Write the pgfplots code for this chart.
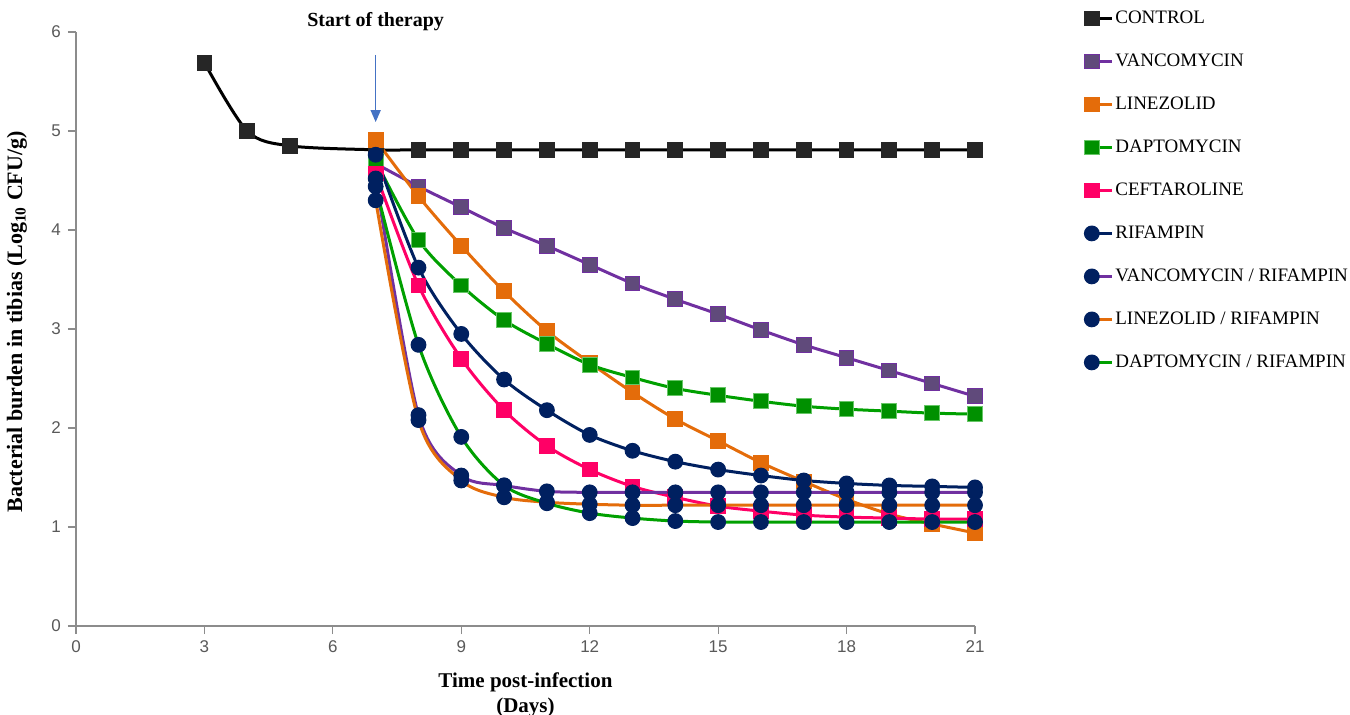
\documentclass[border=0pt]{standalone}
\usepackage{fontspec}
\setmainfont{Liberation Serif}
\setsansfont{Liberation Sans}
\usepackage{pgfplots}
\pgfplotsset{compat=1.18}
\usetikzlibrary{arrows.meta}

\definecolor{ctrl}{HTML}{262626}
\definecolor{vanco}{HTML}{7030A0}
\definecolor{vancofill}{HTML}{604A7B}
\definecolor{linez}{HTML}{E46C0A}
\definecolor{dapto}{HTML}{00A000}
\definecolor{cefta}{HTML}{FF0066}
\definecolor{rifa}{HTML}{002060}
\definecolor{axgray}{HTML}{8C8C8C}
\definecolor{ticktext}{HTML}{595959}
\definecolor{arrowblue}{HTML}{4472C4}

\pgfplotstableread{
x y
3 5.69
4 5.00
5 4.85
7 4.81
8 4.81
9 4.81
10 4.81
11 4.81
12 4.81
13 4.81
14 4.81
15 4.81
16 4.81
17 4.81
18 4.81
19 4.81
20 4.81
21 4.81
}\control
\pgfplotstableread{
x y
7 4.67
8 4.44
9 4.23
10 4.02
11 3.84
12 3.65
13 3.46
14 3.30
15 3.15
16 2.99
17 2.84
18 2.71
19 2.58
20 2.45
21 2.32
}\vancomycin
\pgfplotstableread{
x y
7 4.91
8 4.34
9 3.84
10 3.38
11 2.98
12 2.66
13 2.36
14 2.09
15 1.87
16 1.65
17 1.46
18 1.28
19 1.13
20 1.03
21 0.94
}\linezolid
\pgfplotstableread{
x y
7 4.70
8 3.90
9 3.44
10 3.09
11 2.85
12 2.64
13 2.51
14 2.40
15 2.33
16 2.27
17 2.22
18 2.19
19 2.17
20 2.15
21 2.14
}\daptomycin
\pgfplotstableread{
x y
7 4.57
8 3.44
9 2.70
10 2.18
11 1.82
12 1.58
13 1.41
14 1.30
15 1.21
16 1.16
17 1.12
18 1.10
19 1.09
20 1.08
21 1.08
}\ceftaroline
\pgfplotstableread{
x y
7 4.76
8 3.62
9 2.95
10 2.49
11 2.18
12 1.93
13 1.77
14 1.66
15 1.58
16 1.52
17 1.47
18 1.44
19 1.42
20 1.41
21 1.40
}\rifampin
\pgfplotstableread{
x y
7 4.52
8 2.13
9 1.52
10 1.42
11 1.36
12 1.35
13 1.35
14 1.35
15 1.35
16 1.35
17 1.35
18 1.35
19 1.35
20 1.35
21 1.35
}\vancorif
\pgfplotstableread{
x y
7 4.30
8 2.08
9 1.47
10 1.30
11 1.25
12 1.23
13 1.22
14 1.22
15 1.22
16 1.22
17 1.22
18 1.22
19 1.22
20 1.22
21 1.22
}\linezrif
\pgfplotstableread{
x y
7 4.44
8 2.84
9 1.91
10 1.42
11 1.24
12 1.14
13 1.09
14 1.06
15 1.05
16 1.05
17 1.05
18 1.05
19 1.05
20 1.05
21 1.05
}\daptorif

\begin{document}
\begin{tikzpicture}
\begin{axis}[
    scale only axis,
    width=449.5pt, height=297pt,
    xmin=0, xmax=21, ymin=0, ymax=6,
    xtick={0,3,...,21}, ytick={0,1,...,6},
    axis lines*=left,
    axis line style={axgray, line width=0.6pt},
    tick style={axgray, line width=0.6pt},
    tick align=outside, major tick length=4pt,
    tick label style={font=\sffamily\fontsize{8.5}{10}\selectfont, text=ticktext},
    /pgf/number format/assume math mode=true,
    clip=false,
    xlabel={Time post-infection\\(Days)},
    xlabel style={font=\bfseries\fontsize{10.5}{12.5}\selectfont, align=center,
        at={(axis description cs:0.5,-0.078)}, anchor=north, inner sep=0pt},
    ylabel={Bacterial burden in tibias (Log\textsubscript{10} CFU/g)},
    ylabel style={font=\bfseries\fontsize{11}{13}\selectfont,
        at={(axis description cs:-0.0656,0.512)}, anchor=center, inner sep=0pt},
    every axis plot/.append style={line width=1.5pt, smooth},
    legend cell align=left,
    legend style={draw=none, fill=none, at={(1.1146,1.0488)}, anchor=north west,
        font=\fontsize{9.5}{11}\selectfont, row sep=10.5pt,
        nodes={inner sep=1pt, text height=7pt, text depth=2pt}},
    legend image code/.code={
        \draw[#1,mark=none] (0pt,0pt) -- (10pt,0pt);
        \draw[#1] plot coordinates {(0pt,0pt)};
    },
]
\coordinate (bbll) at (rel axis cs:-0.08454,-0.14983);
\coordinate (bbur) at (rel axis cs:1.41713,1.05387);

\addplot[color=black, mark=square*, mark size=3.7pt,
    mark options={fill=ctrl, draw=ctrl, line width=0.5pt}] table {\control};
\addlegendentry{CONTROL}
\addplot[color=vanco, mark=square*, mark size=3.7pt,
    mark options={fill=vancofill, draw=vanco, line width=0.5pt}] table {\vancomycin};
\addlegendentry{VANCOMYCIN}
\addplot[color=linez, mark=square*, mark size=3.7pt,
    mark options={fill=linez, draw=linez, line width=0.5pt}] table {\linezolid};
\addlegendentry{LINEZOLID}
\addplot[color=dapto, mark=square*, mark size=3.7pt,
    mark options={fill=dapto!90!black, draw=dapto!60!white, line width=0.5pt}] table {\daptomycin};
\addlegendentry{DAPTOMYCIN}
\addplot[color=cefta, mark=square*, mark size=3.7pt,
    mark options={fill=cefta, draw=cefta, line width=0.5pt}] table {\ceftaroline};
\addlegendentry{CEFTAROLINE}
\addplot[color=rifa, mark=*, mark size=3.7pt,
    mark options={fill=rifa, draw=rifa, line width=0.5pt}] table {\rifampin};
\addlegendentry{RIFAMPIN}
\addplot[color=vanco, mark=*, mark size=3.7pt,
    mark options={fill=rifa, draw=rifa, line width=0.5pt}] table {\vancorif};
\addlegendentry{VANCOMYCIN / RIFAMPIN}
\addplot[color=linez, mark=*, mark size=3.7pt,
    mark options={fill=rifa, draw=rifa, line width=0.5pt}] table {\linezrif};
\addlegendentry{LINEZOLID / RIFAMPIN}
\addplot[color=dapto, mark=*, mark size=3.7pt,
    mark options={fill=rifa, draw=rifa, line width=0.5pt}] table {\daptorif};
\addlegendentry{DAPTOMYCIN / RIFAMPIN}

% annotation
\node[font=\bfseries\fontsize{10}{12}\selectfont, inner sep=0pt] at (axis cs:7,6.10) {Start of therapy};
\draw[arrowblue, line width=0.8pt, -{Triangle[width=5pt,length=6pt]}] (axis cs:7,5.77) -- (axis cs:7,5.09);
\end{axis}
\pgfresetboundingbox
\path[use as bounding box] (bbll) rectangle (bbur);
\end{tikzpicture}
\end{document}
